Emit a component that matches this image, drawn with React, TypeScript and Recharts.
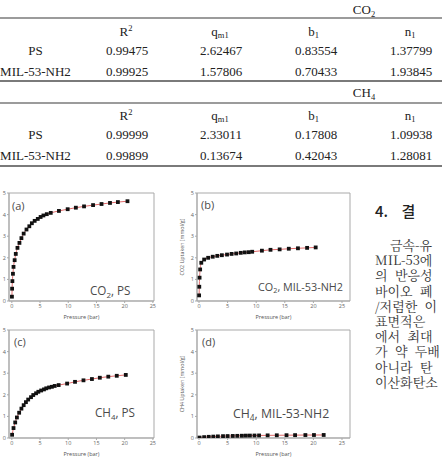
import React from 'react';
import { ComposedChart, Line, XAxis, YAxis, ReferenceArea } from 'recharts';

// ---- Isotherm data: pressure (bar) and uptake (mmol/g) ----
const co2PsPressure = [0.02, 0.05, 0.1, 0.2, 0.3, 0.5, 0.7, 1.0, 1.35, 1.7, 2.1, 2.6, 3.1, 3.55, 4.05, 4.6, 5.1, 5.6, 6.2, 6.9, 8.35, 9.9, 11.35, 12.8, 14.4, 15.9, 17.4, 18.8, 20.5];
const co2PsUptake = [0.2, 0.57, 0.92, 1.26, 1.58, 1.89, 2.18, 2.46, 2.69, 2.91, 3.12, 3.31, 3.46, 3.6, 3.71, 3.8, 3.89, 3.96, 4.02, 4.08, 4.17, 4.25, 4.32, 4.38, 4.44, 4.49, 4.54, 4.58, 4.62];

const co2MilPressure = [0.02, 0.05, 0.1, 0.2, 0.4, 0.9, 1.6, 2.4, 3.2, 4.0, 4.9, 5.7, 6.5, 7.3, 8.0, 8.7, 9.3, 11.0, 12.5, 14.1, 15.7, 17.3, 18.9, 20.4];
const co2MilUptake = [0.26, 0.66, 1.08, 1.46, 1.77, 1.92, 2.0, 2.05, 2.09, 2.12, 2.15, 2.18, 2.2, 2.23, 2.25, 2.26, 2.28, 2.33, 2.37, 2.39, 2.42, 2.44, 2.46, 2.48];

const ch4PsPressure = [0.05, 0.3, 0.6, 0.9, 1.3, 1.7, 2.1, 2.5, 2.9, 3.4, 3.8, 4.3, 4.7, 5.2, 5.7, 6.1, 6.6, 7.1, 7.6, 8.3, 9.8, 11.2, 12.7, 14.2, 15.6, 17.1, 18.6, 20.2];
const ch4PsUptake = [0.15, 0.46, 0.72, 0.95, 1.17, 1.36, 1.52, 1.66, 1.78, 1.89, 1.99, 2.07, 2.14, 2.2, 2.25, 2.3, 2.34, 2.37, 2.41, 2.45, 2.52, 2.6, 2.67, 2.73, 2.79, 2.84, 2.88, 2.92];

const ch4MilPressure = [0.1, 0.9, 1.7, 2.5, 3.3, 4.2, 5.0, 5.9, 6.7, 7.5, 8.2, 8.9, 9.7, 10.5, 12.0, 13.6, 15.3, 16.8, 18.6, 20.1, 21.8];
const ch4MilUptake = [0.02, 0.04, 0.055, 0.065, 0.075, 0.085, 0.09, 0.095, 0.1, 0.105, 0.11, 0.112, 0.115, 0.118, 0.122, 0.126, 0.13, 0.133, 0.136, 0.138, 0.14];

const pressureTicks = [0, 5, 10, 15, 20, 25];
const uptakeTicks = [0, 1, 2, 3, 4, 5];

// ---- Fitting parameter table ----
const sorbents = ['PS', 'MIL-53-NH2'];
const co2R2 = [0.99475, 0.99925];
const co2Qm1 = [2.62467, 1.57806];
const co2B1 = [0.83554, 0.70433];
const co2N1 = [1.37799, 1.93845];
const ch4R2 = [0.99999, 0.99899];
const ch4Qm1 = [2.33011, 0.13674];
const ch4B1 = [0.17808, 0.42043];
const ch4N1 = [1.09938, 1.28081];

// ---- Conclusion column (left part of each line) ----
const conclusionHeading = '4. 결';
const conclusionLines = [
  '금속-유',
  'MIL-53에',
  '의 반응성',
  '바이오 폐',
  '/저렴한 이',
  '표면적은',
  '에서 최대',
  '가 약 두배',
  '아니라 탄',
  '이산화탄소',
];

const toRows = (p: number[], q: number[]) => p.map((x, i) => ({ pressure: x, uptake: q[i] }));

const SquareDot = (props: any) => {
  const { cx, cy, index } = props;
  if (cx == null || cy == null) return <g key={`d-${index}`} />;
  return <rect key={`d-${index}`} x={cx - 1.9} y={cy - 1.9} width={3.8} height={3.8} fill="#111" />;
};

type PanelProps = {
  left: number;
  top: number;
  width: number;
  yAxisWidth: number;
  xDomain: [number, number];
  pressure: number[];
  uptake: number[];
  yLabel?: string;
};

function IsothermPanel({ left, top, width, yAxisWidth, xDomain, pressure, uptake, yLabel }: PanelProps) {
  const data = toRows(pressure, uptake);
  const axisColor = '#a9a9a9';
  const tickStyle = { fontSize: 5.5, fill: '#666', fontFamily: 'Open Sans' };
  return (
    <div style={{ position: 'absolute', left, top }}>
      <ComposedChart width={width} height={140} data={data} margin={{ top: 9, right: 5, bottom: 5, left: 0 }}>
        <XAxis
          type="number"
          dataKey="pressure"
          domain={xDomain}
          ticks={pressureTicks}
          allowDataOverflow
          interval={0}
          height={18}
          tickSize={2}
          tickMargin={1}
          tick={tickStyle}
          stroke={axisColor}
          label={{ value: 'Pressure (bar)', position: 'insideBottom', offset: 0, fontSize: 5.5, fill: '#555', fontFamily: 'Open Sans' }}
        />
        <YAxis
          type="number"
          domain={[0, 5]}
          ticks={uptakeTicks}
          allowDataOverflow
          interval={0}
          width={yAxisWidth}
          tickSize={2}
          tickMargin={1}
          tick={tickStyle}
          stroke={axisColor}
          label={
            yLabel
              ? { value: yLabel, angle: -90, position: 'insideLeft', offset: 12, fontSize: 5.3, fill: '#555', fontFamily: 'Open Sans', style: { textAnchor: 'middle' } }
              : undefined
          }
        />
        <ReferenceArea x1={xDomain[0]} x2={xDomain[1]} y1={0} y2={5} fill="none" stroke={axisColor} strokeWidth={1} ifOverflow="visible" />
        <Line
          type="monotone"
          dataKey="uptake"
          stroke="#e06a6a"
          strokeWidth={1}
          dot={SquareDot}
          activeDot={false}
          isAnimationActive={false}
        />
      </ComposedChart>
    </div>
  );
}

const serif = "'Liberation Serif', 'Times New Roman', serif";
const colX = [35.5, 127, 221, 316, 411];

function ParamRows({ baseY, r2, qm1, b1, n1 }: { baseY: number; r2: number[]; qm1: number[]; b1: number[]; n1: number[] }) {
  return (
    <g>
      {sorbents.map((s, i) => {
        const y = baseY + i * 20.5;
        const vals = [r2[i], qm1[i], b1[i], n1[i]];
        return (
          <g key={s}>
            <text x={colX[0]} y={y} textAnchor="middle">{s}</text>
            {vals.map((v, j) => (
              <text key={j} x={colX[j + 1]} y={y} textAnchor="middle">{v.toFixed(5)}</text>
            ))}
          </g>
        );
      })}
    </g>
  );
}

function HeaderRow({ y }: { y: number }) {
  return (
    <g>
      <text x={126} y={y} textAnchor="middle">R<tspan fontSize={8.5} dy={-5}>2</tspan></text>
      <text x={220} y={y} textAnchor="middle">q<tspan fontSize={8.5} dy={2}>m1</tspan></text>
      <text x={313.5} y={y} textAnchor="middle">b<tspan fontSize={8.5} dy={2}>1</tspan></text>
      <text x={410} y={y} textAnchor="middle">n<tspan fontSize={8.5} dy={2}>1</tspan></text>
    </g>
  );
}

function GasCaption({ x, y, gas, sub, rest, size }: { x: number; y: number; gas: string; sub: string; rest: string; size: number }) {
  return (
    <text x={x} y={y} fontSize={size} fill="#4a4a4a" fontFamily="'Open Sans', sans-serif">
      {gas}
      <tspan fontSize={size * 0.68} dy={size * 0.22}>{sub}</tspan>
      <tspan dy={-size * 0.22}>{`, ${rest}`}</tspan>
    </text>
  );
}

export default function App() {
  const rule = '#7a7a7a';
  return (
    <div style={{ position: 'absolute', left: 0, top: 0, width: 442, height: 460, overflow: 'hidden', background: '#fff' }}>
      <IsothermPanel left={0} top={184} width={159} yAxisWidth={9} xDomain={[-0.5, 25.2]} pressure={co2PsPressure} uptake={co2PsUptake} />
      <IsothermPanel left={170} top={184} width={185} yAxisWidth={27} xDomain={[-0.35, 26.4]} pressure={co2MilPressure} uptake={co2MilUptake} yLabel="CO2 Uptaken [mmol/g]" />
      <IsothermPanel left={0} top={321} width={159} yAxisWidth={9} xDomain={[-0.5, 25.2]} pressure={ch4PsPressure} uptake={ch4PsUptake} />
      <IsothermPanel left={170} top={321} width={185} yAxisWidth={27} xDomain={[-0.35, 26.4]} pressure={ch4MilPressure} uptake={ch4MilUptake} yLabel="CH4 Uptaken [mmol/g]" />

      <svg width={442} height={460} style={{ position: 'absolute', left: 0, top: 0, pointerEvents: 'none' }}>
        {/* parameter table */}
        <g fontFamily={serif} fontSize={13} fill="#222">
          <text x={364} y={14} textAnchor="middle">CO<tspan fontSize={8.5} dy={3}>2</tspan></text>
          <line x1={0} x2={442} y1={18} y2={18} stroke={rule} strokeWidth={1.5} />
          <HeaderRow y={36} />
          <ParamRows baseY={55} r2={co2R2} qm1={co2Qm1} b1={co2B1} n1={co2N1} />
          <line x1={0} x2={442} y1={81} y2={81} stroke={rule} strokeWidth={1.8} />
          <text x={364} y={97} textAnchor="middle">CH<tspan fontSize={8.5} dy={3}>4</tspan></text>
          <line x1={0} x2={442} y1={103} y2={103} stroke={rule} strokeWidth={1.5} />
          <HeaderRow y={120} />
          <ParamRows baseY={139} r2={ch4R2} qm1={ch4Qm1} b1={ch4B1} n1={ch4N1} />
          <line x1={0} x2={442} y1={166} y2={166} stroke={rule} strokeWidth={1.8} />
        </g>

        {/* panel captions */}
        <g fontFamily="'Open Sans', sans-serif" fill="#4a4a4a">
          <text x={12} y={209.5} fontSize={11}>(a)</text>
          <text x={201} y={209} fontSize={11}>(b)</text>
          <text x={14} y={345.5} fontSize={11}>(c)</text>
          <text x={202} y={345.5} fontSize={11}>(d)</text>
        </g>
        <GasCaption x={90} y={295} gas="CO" sub="2" rest="PS" size={11.7} />
        <GasCaption x={258} y={290.5} gas="CO" sub="2" rest="MIL-53-NH2" size={10.8} />
        <GasCaption x={95} y={417} gas="CH" sub="4" rest="PS" size={11.7} />
        <GasCaption x={233} y={418} gas="CH" sub="4" rest="MIL-53-NH2" size={12.3} />

        {/* conclusion column */}
        <text x={375} y={217} fontSize={15} fontWeight={500} fill="#222" fontFamily="'Noto Sans CJK KR', sans-serif" wordSpacing={10}>{conclusionHeading}</text>
        <g fontSize={13} fill="#333" fontFamily="'Noto Serif CJK KR', 'Noto Sans CJK KR', serif" wordSpacing={4}>
          {conclusionLines.map((line, i) => (
            <text key={i} x={i === 0 ? 390 : 375} y={250 + i * 15.2}>{line}</text>
          ))}
        </g>
      </svg>
    </div>
  );
}
